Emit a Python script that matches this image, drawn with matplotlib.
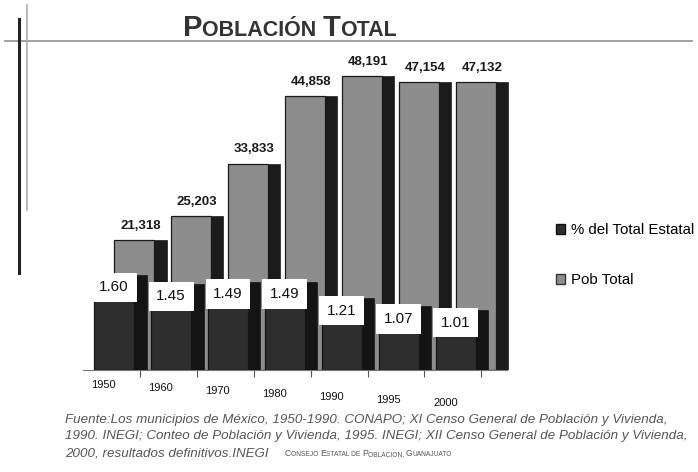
import matplotlib
matplotlib.use("Agg")
import matplotlib.pyplot as plt
from matplotlib.patches import Patch
from matplotlib.lines import Line2D

years = ["1950", "1960", "1970", "1980", "1990", "1995", "2000"]
pob_total = [21318, 25203, 33833, 44858, 48191, 47154, 47132]
pct_estatal = [1.60, 1.45, 1.49, 1.49, 1.21, 1.07, 1.01]

serie_pct = "% del Total Estatal"
serie_pob = "Pob Total"

fuente = ["Fuente:Los municipios de México, 1950-1990. CONAPO; XI Censo General de Población y Vivienda,",
          "1990. INEGI; Conteo de Población y Vivienda, 1995. INEGI; XII Censo General de Población y Vivienda,",
          "2000, resultados definitivos.INEGI"]

narrow = ["Liberation Sans Narrow", "Liberation Sans", "DejaVu Sans"]
plt.rcParams["font.family"] = ["Liberation Sans", "DejaVu Sans"]

fig = plt.figure(figsize=(6.98, 4.72), dpi=100)
ax = fig.add_axes([0.086, 0.216, 0.673, 0.657])
ax2 = ax.twinx()

x = list(range(len(years)))
w = 0.70      # ancho de la cara frontal
lado = 0.22   # cara lateral (efecto 3d)
desp = 0.35   # desplazamiento de la serie de atras

# serie de atras: Pob Total
xg = [i + desp for i in x]
ax.bar([g + w / 2 + lado / 2 for g in xg], pob_total, width=lado, color="#1b1b1b",
       edgecolor="#1b1b1b", linewidth=0.5, zorder=1)
ax.bar(xg, pob_total, width=w, color="#8d8d8d", edgecolor="#1a1a1a", linewidth=0.9, zorder=2)
for g, v in zip(xg, pob_total):
    ax.annotate(f"{v:,}", (g + lado / 2, v), xytext=(0, 6), textcoords="offset points",
                ha="center", va="bottom", fontsize=9.5, fontweight="bold",
                family=narrow, color="#1a1a1a")

# serie del frente: % del Total Estatal
ax2.bar([i + w / 2 + lado / 2 for i in x], pct_estatal, width=lado, color="#141414",
        edgecolor="#141414", linewidth=0.5, zorder=3)
ax2.bar(x, pct_estatal, width=w, color="#2e2e2e", edgecolor="#151515", linewidth=0.9, zorder=4)
for i, v in zip(x, pct_estatal):
    ax2.annotate(f"{v:.2f}", (i, v), xytext=(0, -9), textcoords="offset points",
                 ha="center", va="center", fontsize=11, family=narrow, color="#111111",
                 bbox=dict(boxstyle="square,pad=0.5", fc="white", ec="none"), zorder=6)

ax.set_xlim(-0.95, 7.3)
ax.set_ylim(0, 50820)
ax2.set_ylim(0, 5.22)

for a in (ax, ax2):
    for s in a.spines.values():
        s.set_visible(False)
    a.set_yticks([])
ax.spines["bottom"].set_visible(True)
ax.spines["bottom"].set_color("#777777")
ax.spines["bottom"].set_bounds(-0.55, 6.9)
ax.set_xticks([i + 0.45 for i in x])
ax.set_xticklabels([])
ax.tick_params(axis="x", direction="out", length=5, color="#555555")

# etiquetas de los anos (perspectiva)
for i, yr in zip(x, years):
    ax.annotate(yr, (i - 0.18, 0), xytext=(0, -11 - 2.1 * i), textcoords="offset points",
                ha="center", va="center", fontsize=8, family=narrow, color="#111111",
                annotation_clip=False)

# leyenda
handles = [Patch(facecolor="#2e2e2e", edgecolor="#111111", label=serie_pct),
           Patch(facecolor="#8d8d8d", edgecolor="#333333", label=serie_pob)]
fig.legend(handles=handles, loc="upper left", bbox_to_anchor=(0.788, 0.54), frameon=False,
           handlelength=0.6, handleheight=0.6, handletextpad=0.4, labelspacing=2.4,
           borderaxespad=0, prop={"family": narrow, "size": 10.8})

# titulo en versalitas
fig.canvas.draw()
rend = fig.canvas.get_renderer()


def versalitas(x0, y0, partes, **kw):
    pos = x0
    for txt, size in partes:
        t = fig.text(pos, y0, txt, fontsize=size, va="baseline", ha="left", **kw)
        pos += t.get_window_extent(renderer=rend).width / fig.bbox.width


versalitas(183 / 698, 1 - 36 / 472,
           [("P", 21), ("OBLACIÓN ", 15.5), ("T", 21), ("OTAL", 15.5)],
           fontweight="bold", color="#333333")

# lineas decorativas
fig.add_artist(Line2D([5 / 698, 692 / 698], [1 - 41 / 472] * 2, color="#999999", lw=1.3))
fig.add_artist(Line2D([19 / 698] * 2, [1 - 19 / 472, 1 - 273 / 472], color="#222222", lw=2.2))
fig.add_artist(Line2D([27 / 698] * 2, [1 - 5 / 472, 1 - 210 / 472], color="#aaaaaa", lw=1.2))

# fuente
for k, linea in enumerate(fuente):
    fig.text(65 / 698, 1 - (423 + 16.5 * k) / 472, linea, fontsize=9.6, style="italic",
             color="#555555", va="baseline")
versalitas(285 / 698, 1 - 456 / 472,
           [("C", 6.2), ("ONSEJO ", 4.8), ("E", 6.2), ("STATAL DE ", 4.8), ("P", 6.2),
            ("OBLACION, ", 4.8), ("G", 6.2), ("UANAJUATO", 4.8)], color="#555555")

fig.savefig("out.png", dpi=100)
